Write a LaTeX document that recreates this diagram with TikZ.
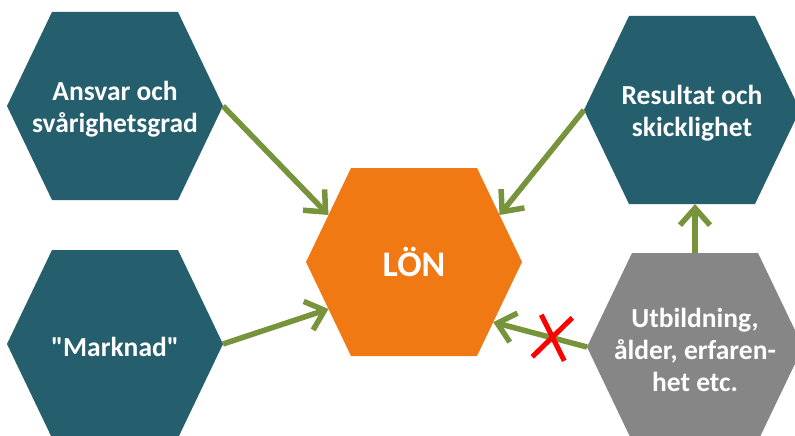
\documentclass[tikz,border=0pt]{standalone}
\usepackage{fontspec}
\setmainfont{Carlito}[Ligatures=TeXOff]
\usetikzlibrary{arrows.meta,calc}

\definecolor{hexteal}{RGB}{37,94,108}
\definecolor{hexorange}{RGB}{240,121,19}
\definecolor{hexgray}{RGB}{134,134,134}
\definecolor{arrowgreen}{RGB}{119,147,60}
\definecolor{crossred}{RGB}{255,0,0}

\tikzset{
  hexlabel/.style={text=white, align=center, inner sep=0pt, yshift=-3pt,
    font=\bfseries\fontsize{27.5}{32}\selectfont},
  biglabel/.style={text=white, align=center, inner sep=0pt,
    font=\bfseries\fontsize{36}{40}\selectfont},
  link/.style={draw=arrowgreen, line width=5.5pt,
    -{Straight Barb[length=17pt,width=30pt]}},
  crossmark/.style={draw=crossred, line width=5pt}
}

% hexagon with flat top and bottom: name, centre, fill, label style, text
\newcommand{\hexshape}[5]{%
  \coordinate (#1-c) at (#2);
  \fill[#3] ($(#1-c)+(-108,0)$) coordinate (#1-w)
    -- ($(#1-c)+(-63,-94)$) coordinate (#1-nw)
    -- ($(#1-c)+(63,-94)$) coordinate (#1-ne)
    -- ($(#1-c)+(108,0)$) coordinate (#1-e)
    -- ($(#1-c)+(63,94)$) coordinate (#1-se)
    -- ($(#1-c)+(-63,94)$) coordinate (#1-sw) -- cycle;
  \coordinate (#1-n) at ($(#1-c)+(0,-94)$);
  \coordinate (#1-s) at ($(#1-c)+(0,94)$);
  \node[#4] (#1) at (#1-c) {#5};
}

\begin{document}
\begin{tikzpicture}[x=1pt, y=-1pt]
  \useasboundingbox (0,0) rectangle (795,436);
  \clip (0,0) rectangle (795,436);
  \fill[white] (0,0) rectangle (795,436);

  \hexshape{ansvar}{115,106}{hexteal}{hexlabel}{Ansvar och\\svårighetsgrad}
  \hexshape{marknad}{115,344}{hexteal}{hexlabel}{"Marknad"}
  \hexshape{lon}{414,262}{hexorange}{biglabel}{LÖN}
  \hexshape{result}{692,110}{hexteal}{hexlabel}{Resultat och\\skicklighet}
  \hexshape{utb}{695,347}{hexgray}{hexlabel}{Utbildning,\\ålder, erfaren-\\het etc.}

  \draw[link] (ansvar-e) -- ($(lon-w)!0.5!(lon-nw)$);
  \draw[link] (marknad-e) -- ($(lon-w)!0.5!(lon-sw)$);
  \draw[link] (result-w) -- ($(lon-e)!0.5!(lon-ne)$);
  \draw[link] (utb-w) -- coordinate[pos=0.37] (cross) ($(lon-e)!0.64!(lon-se)$);
  \draw[link] (utb-n) -- (utb-n |- result-s);

  % red cross over the struck-out link
  \draw[crossmark] ($(cross)+(-20,19)$) -- ($(cross)+(20,-20)$);
  \draw[crossmark] ($(cross)+(-11,-23)$) -- ($(cross)+(12,23)$);
\end{tikzpicture}
\end{document}
